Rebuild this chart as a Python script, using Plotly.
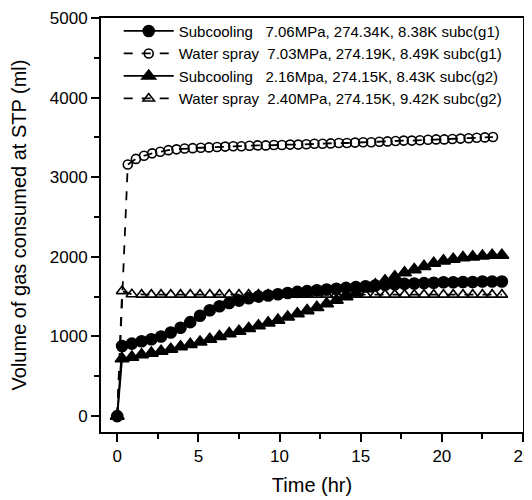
from plotly import graph_objects as go

FONT = "Arial, Liberation Sans, sans-serif"
BLACK = "#000000"
NB = "\u00a0"

# Time grids (hr)
TIME_RING = [
    0, 0.65, 1.15, 1.65, 2.15, 2.65, 3.15, 3.65, 4.15, 4.65, 5.15, 5.65,
    6.15, 6.65, 7.15, 7.65, 8.15, 8.65, 9.15, 9.65, 10.15, 10.65, 11.15,
    11.65, 12.15, 12.65, 13.15, 13.65, 14.15, 14.65, 15.15, 15.65, 16.15,
    16.65, 17.15, 17.65, 18.15, 18.65, 19.15, 19.65, 20.15, 20.65, 21.15,
    21.65, 22.15, 22.65, 23.15,
]
TIME = [
    0, 0.3, 0.9, 1.5, 2.1, 2.7, 3.3, 3.9, 4.5, 5.1, 5.7, 6.3, 6.9, 7.5,
    8.1, 8.7, 9.3, 9.9, 10.5, 11.1, 11.7, 12.3, 12.9, 13.5, 14.1, 14.7,
    15.3, 15.9, 16.5, 17.1, 17.7, 18.3, 18.9, 19.5, 20.1, 20.7, 21.3, 21.9,
    22.5, 23.1, 23.7,
]

# Gas consumed (ml at STP)
SUBC_G1 = [
    0, 880, 910, 940, 965, 1000, 1050, 1110, 1180, 1260, 1330, 1380, 1420,
    1450, 1480, 1500, 1515, 1530, 1545, 1560, 1570, 1580, 1590, 1600, 1610,
    1620, 1630, 1640, 1650, 1655, 1660, 1665, 1670, 1675, 1680, 1680, 1685,
    1685, 1690, 1690, 1690,
]
SPRAY_G1 = [
    0, 3160, 3230, 3270, 3300, 3320, 3340, 3350, 3360, 3365, 3370, 3375,
    3380, 3385, 3390, 3390, 3395, 3400, 3400, 3405, 3405, 3410, 3410, 3415,
    3420, 3420, 3425, 3430, 3430, 3435, 3440, 3440, 3445, 3450, 3455, 3460,
    3460, 3465, 3470, 3475, 3475, 3480, 3485, 3490, 3495, 3500, 3505,
]
SUBC_G2 = [
    0, 720, 740, 770, 790, 815, 840, 870, 900, 930, 965, 1000, 1035, 1065,
    1100, 1135, 1170, 1205, 1245, 1285, 1325, 1365, 1410, 1455, 1500, 1545,
    1600, 1650, 1700, 1750, 1800, 1840, 1880, 1920, 1950, 1970, 1990, 2000,
    2010, 2020, 2020,
]
SPRAY_G2 = [
    0, 1570, 1530, 1525, 1525, 1525, 1525, 1525, 1525, 1525, 1525, 1525,
    1525, 1525, 1525, 1525, 1525, 1525, 1525, 1525, 1525, 1525, 1525, 1525,
    1525, 1525, 1525, 1525, 1525, 1525, 1525, 1525, 1525, 1525, 1525, 1525,
    1525, 1525, 1525, 1525, 1525,
]

LABELS = [
    "Subcooling" + NB * 3 + "7.06MPa, 274.34K, 8.38K subc(g1)",
    "Water spray" + NB * 2 + "7.03MPa, 274.19K, 8.49K subc(g1)",
    "Subcooling" + NB * 3 + "2.16Mpa, 274.15K, 8.43K subc(g2)",
    "Water spray" + NB * 2 + "2.40MPa, 274.15K, 9.42K subc(g2)",
]


def add_series(fig, x, y, name, symbol, dash, size):
    fig.add_trace(
        go.Scatter(
            x=x,
            y=y,
            name=name,
            mode="lines+markers",
            line=dict(color=BLACK, width=1.8, dash=dash),
            marker=dict(
                symbol=symbol,
                size=size,
                color=BLACK,
                line=dict(color=BLACK, width=1.6),
            ),
        )
    )


fig = go.Figure()
add_series(fig, TIME, SUBC_G1, LABELS[0], "circle", "solid", 11)
add_series(fig, TIME_RING, SPRAY_G1, LABELS[1], "circle-open", "dash", 9)
add_series(fig, TIME, SUBC_G2, LABELS[2], "triangle-up", "solid", 12)
add_series(fig, TIME, SPRAY_G2, LABELS[3], "triangle-up-open", "dash", 10)

axis_common = dict(
    showline=True,
    linecolor=BLACK,
    linewidth=2,
    mirror=True,
    ticks="outside",
    ticklen=8,
    tickwidth=1.5,
    tickcolor=BLACK,
    showgrid=False,
    zeroline=False,
    automargin=False,
    ticklabeloverflow="allow",
    tickfont=dict(size=17, color=BLACK),
    title_font=dict(size=20, color=BLACK),
)
fig.update_xaxes(
    title_text="Time (hr)",
    range=[-1, 25],
    tickvals=[0, 5, 10, 15, 20, 25],
    minor=dict(ticks="outside", ticklen=5, tickcolor=BLACK, dtick=2.5,
               tick0=0),
    title_standoff=13,
    **axis_common,
)
fig.update_yaxes(
    title_text="Volume of gas consumed at STP (ml)",
    range=[-200, 5000],
    tickvals=[0, 1000, 2000, 3000, 4000, 5000],
    minor=dict(ticks="outside", ticklen=5, tickcolor=BLACK, dtick=500,
               tick0=0),
    title_standoff=21,
    **axis_common,
)
# page body adds an 8px offset, so the figure is sized to the visible area
fig.update_layout(
    width=524,
    height=492,
    margin=dict(l=93, r=9, t=7, b=68),
    font_family=FONT,
    plot_bgcolor="white",
    paper_bgcolor="white",
    legend=dict(
        x=0.042,
        y=1.008,
        xanchor="left",
        yanchor="top",
        itemwidth=50,
        bgcolor="rgba(0,0,0,0)",
        font=dict(size=15, color=BLACK),
        tracegroupgap=0,
    ),
)

fig.write_html("out.html")
